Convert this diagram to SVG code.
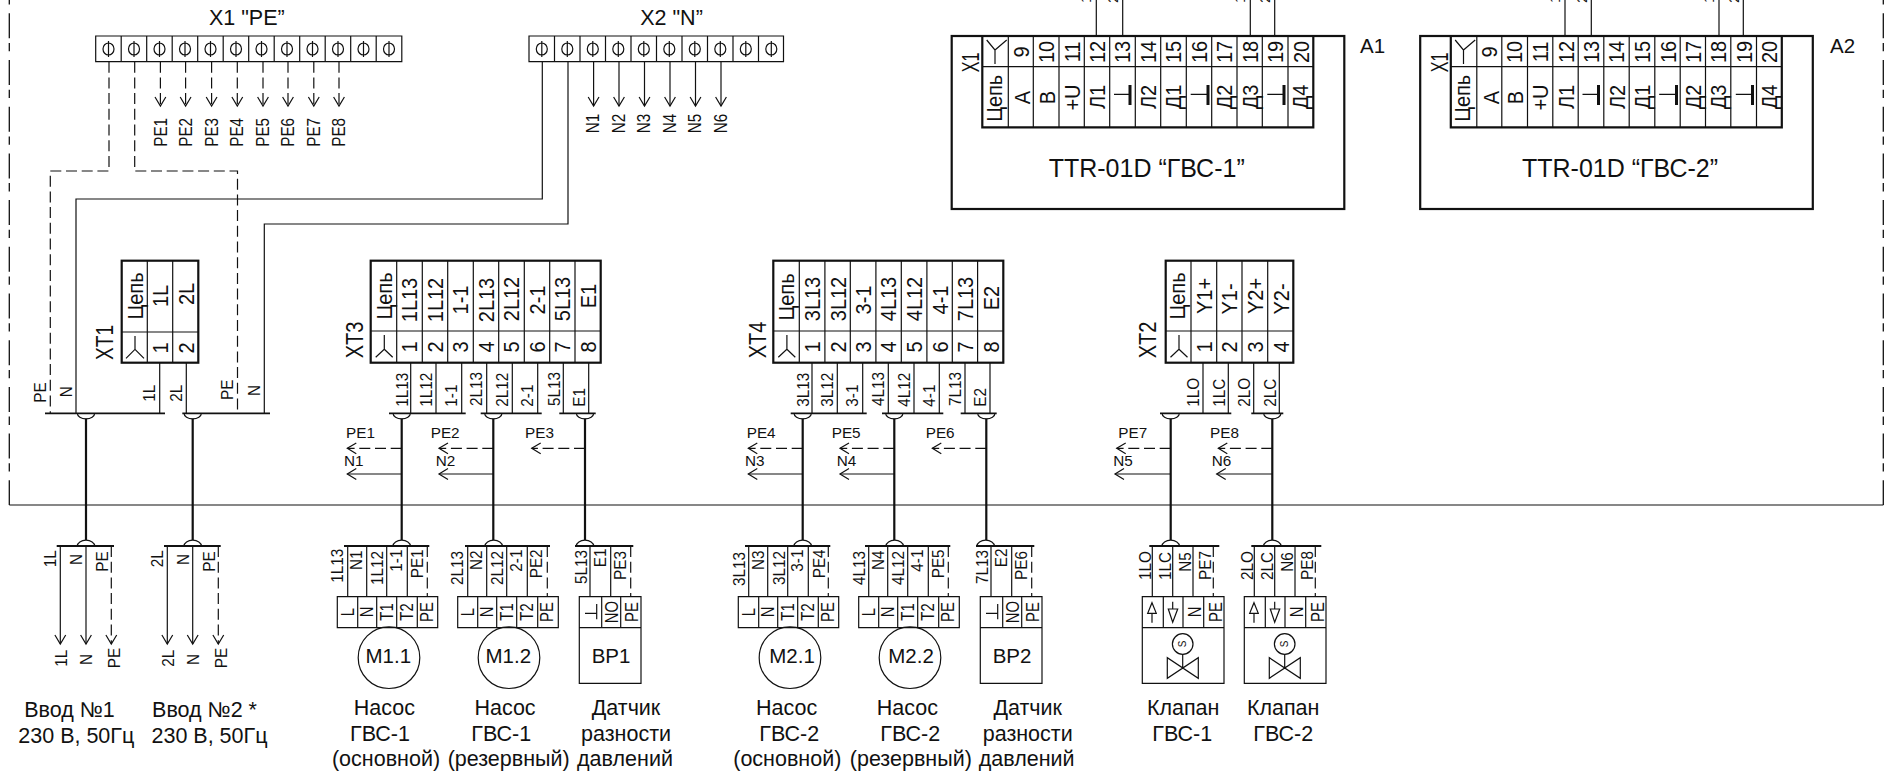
<svg xmlns="http://www.w3.org/2000/svg" width="1889" height="774" viewBox="0 0 1889 774">
<style>
text{font-family:"Liberation Sans",Arial,sans-serif;fill:#111}
.w,.wd,.bus,.hv,.box,.thin,.gnd{fill:none;stroke:#111}
.w,.wd{stroke-width:1.2}
.wd{stroke-dasharray:11 4.7}
.bus{stroke-width:1.8}
.hv{stroke-width:2.2}
.box{stroke-width:2.2}
.thin{stroke-width:1.2}
.gnd{stroke-width:3}
.fr{fill:none;stroke:#111;stroke-width:1.3;stroke-dasharray:25 4.7 8.3 8.7}
.m{text-anchor:middle}
.sh{font-size:15.3px}.s15{font-size:17.5px}.s16{font-size:17px}.s20{font-size:21.5px}.sh2{font-size:20.5px}.s21{font-size:21.5px}.s25{font-size:25px}
</style>
<defs>
<marker id="ar" markerUnits="userSpaceOnUse" markerWidth="14" markerHeight="16" refX="10" refY="6" orient="auto" overflow="visible"><path d="M1,0.6L10,6L1,11.4" fill="none" stroke="#111" stroke-width="1.2"/></marker>
</defs>
<rect width="1889" height="774" fill="#fff"/>

<g id="frame">
<path class="fr" d="M9.3,-33.4V505"/><path class="fr" d="M1883.3,-33.4V505"/>
<path class="thin" d="M9.3,505H1883.3"/>
</g>

<g id="connectors">
<path class="wd" d="M109,61.7V171H50.3V413.3"/>
<path class="wd" d="M134.7,61.7V171H237.5V413.3"/>
<path class="w" d="M542.3,61.7V199H76V413.3"/>
<path class="w" d="M568,61.7V224H264.3V413.3"/>
<path class="wd" marker-end="url(#ar)" d="M160.4,61.7V106"/><path class="wd" marker-end="url(#ar)" d="M185.6,61.7V106"/><path class="wd" marker-end="url(#ar)" d="M211.6,61.7V106"/><path class="wd" marker-end="url(#ar)" d="M237.3,61.7V106"/><path class="wd" marker-end="url(#ar)" d="M263,61.7V106"/><path class="wd" marker-end="url(#ar)" d="M288,61.7V106"/><path class="wd" marker-end="url(#ar)" d="M313.8,61.7V106"/><path class="wd" marker-end="url(#ar)" d="M339,61.7V106"/>
<path class="w" marker-end="url(#ar)" d="M593.6,61.7V106"/><path class="w" marker-end="url(#ar)" d="M619,61.7V106"/><path class="w" marker-end="url(#ar)" d="M644.5,61.7V106"/><path class="w" marker-end="url(#ar)" d="M670,61.7V106"/><path class="w" marker-end="url(#ar)" d="M695.5,61.7V106"/><path class="w" marker-end="url(#ar)" d="M721,61.7V106"/>
<path class="w" d="M1096.3,0V36M1122.7,0V36M1250.3,0V36M1274.7,0V36M1565,0V36M1591.3,0V36M1719,0V36M1743.3,0V36"/>
<path class="w" d="M159.7,362V413M186.3,362V413"/>
<path class="w" d="M410.7,362V413M436,362V413M461.7,362V413M486.7,362V413M512.3,362V413M537.7,362V413M563.3,362V413M588.7,362V413"/>
<path class="w" d="M812,362V413M837.3,362V413M862.7,362V413M888.3,362V413M914,362V413M939.3,362V413M965,362V413M990,362V413"/>
<path class="w" d="M1203,362V413M1228.3,362V413M1253.7,362V413M1279.3,362V413"/>
<path class="bus" d="M45,413.3H165M182.3,413.3H270M389,413.3H465.7M480.7,413.3H541.7M559.3,413.3H595.7M790.7,413.3H866.7M882,413.3H943.3M960.7,413.3H996.7M1160,413.3H1231.3M1251.3,413.3H1283.3"/>
<path class="thin" d="M77.3,413.3A8.7,5.5 0 0 0 94.7,413.3M184,413.3A8.7,5.5 0 0 0 201.4,413.3M393,413.3A8.7,5.5 0 0 0 410.4,413.3M484.6,413.3A8.7,5.5 0 0 0 502,413.3M576.3,413.3A8.7,5.5 0 0 0 593.7,413.3M794,413.3A8.7,5.5 0 0 0 811.4,413.3M885.6,413.3A8.7,5.5 0 0 0 903,413.3M977.6,413.3A8.7,5.5 0 0 0 995,413.3M1162,413.3A8.7,5.5 0 0 0 1179.4,413.3M1263.6,413.3A8.7,5.5 0 0 0 1281,413.3"/>
<path class="hv" d="M86,418.8V540M192.7,418.8V540M401.7,418.8V540M493.3,418.8V540M585,418.8V540M802.7,418.8V540M894.3,418.8V540M986.3,418.8V540M1170.7,418.8V540M1272.3,418.8V540"/>
<path class="wd" marker-end="url(#ar)" d="M401.7,448.3H347.3"/><path class="w" marker-end="url(#ar)" d="M401.7,474H347.3"/>
<path class="wd" marker-end="url(#ar)" d="M493.3,448.3H439"/><path class="w" marker-end="url(#ar)" d="M493.3,474H439"/>
<path class="wd" marker-end="url(#ar)" d="M585,448.3H531.7"/>
<path class="wd" marker-end="url(#ar)" d="M802.7,448.3H748.3"/><path class="w" marker-end="url(#ar)" d="M802.7,474H748.3"/>
<path class="wd" marker-end="url(#ar)" d="M894.3,448.3H840"/><path class="w" marker-end="url(#ar)" d="M894.3,474H840"/>
<path class="wd" marker-end="url(#ar)" d="M986.3,448.3H932.3"/>
<path class="wd" marker-end="url(#ar)" d="M1170.7,448.3H1116.7"/><path class="w" marker-end="url(#ar)" d="M1170.7,474H1115"/>
<path class="wd" marker-end="url(#ar)" d="M1272.3,448.3H1218.3"/><path class="w" marker-end="url(#ar)" d="M1272.3,474H1216.7"/>
<path class="bus" d="M56.7,546H114M164,546H220.7M344,546H429.3M465,546H550M575,546H633.3M745,546H830.3M865,546H950.3M976,546H1034.3M1149.3,546H1219.3M1251.3,546H1321.3"/>
<path class="thin" d="M77.3,546A8.7,5.8 0 0 1 94.7,546M184,546A8.7,5.8 0 0 1 201.4,546M393,546A8.7,5.8 0 0 1 410.4,546M485,546A8.7,5.8 0 0 1 502.4,546M576.3,546A8.7,5.8 0 0 1 593.7,546M794,546A8.7,5.8 0 0 1 811.4,546M886,546A8.7,5.8 0 0 1 903.4,546M977,546A8.7,5.8 0 0 1 994.4,546M1162,546A8.7,5.8 0 0 1 1179.4,546M1263.6,546A8.7,5.8 0 0 1 1281,546"/>
<path class="w" marker-end="url(#ar)" d="M60.3,546V644"/><path class="w" marker-end="url(#ar)" d="M86,546V644"/><path class="wd" marker-end="url(#ar)" d="M111.3,546V644"/>
<path class="w" marker-end="url(#ar)" d="M167.3,546V644"/><path class="w" marker-end="url(#ar)" d="M192.7,546V644"/><path class="wd" marker-end="url(#ar)" d="M218.3,546V644"/>
<path class="w" d="M347.7,546V596.7M366.7,546V596.7M386.7,546V596.7M407.3,546V596.7M467.7,546V596.7M486.7,546V596.7M506.7,546V596.7M527.3,546V596.7M590,546V596.7M610.7,546V596.7M748.7,546V596.7M767.7,546V596.7M787.7,546V596.7M808.3,546V596.7M868.7,546V596.7M887.7,546V596.7M907.7,546V596.7M928.3,546V596.7M991,546V596.7M1011.7,546V596.7M1152.3,546V596.7M1172.7,546V596.7M1193,546V596.7M1254.3,546V596.7M1274.7,546V596.7M1295,546V596.7"/>
<path class="wd" d="M427.3,546V596.7M547.3,546V596.7M630.7,546V596.7M828.3,546V596.7M948.3,546V596.7M1031.7,546V596.7M1213.3,546V596.7M1315.3,546V596.7"/>
</g>

<g id="wire-labels">
<g class="s15">
<text transform="translate(166.5,146.7)rotate(-90)scale(.87 1)">PE1</text><text transform="translate(192,146.7)rotate(-90)scale(.87 1)">PE2</text><text transform="translate(217.5,146.7)rotate(-90)scale(.87 1)">PE3</text><text transform="translate(243,146.7)rotate(-90)scale(.87 1)">PE4</text><text transform="translate(268.5,146.7)rotate(-90)scale(.87 1)">PE5</text><text transform="translate(294,146.7)rotate(-90)scale(.87 1)">PE6</text><text transform="translate(319.5,146.7)rotate(-90)scale(.87 1)">PE7</text><text transform="translate(345,146.7)rotate(-90)scale(.87 1)">PE8</text>
<text transform="translate(599,133.3)rotate(-90)scale(.87 1)">N1</text><text transform="translate(624.5,133.3)rotate(-90)scale(.87 1)">N2</text><text transform="translate(650,133.3)rotate(-90)scale(.87 1)">N3</text><text transform="translate(675.5,133.3)rotate(-90)scale(.87 1)">N4</text><text transform="translate(701,133.3)rotate(-90)scale(.87 1)">N5</text><text transform="translate(726.5,133.3)rotate(-90)scale(.87 1)">N6</text>
</g>
<g class="sh">
<text transform="translate(1091,3)rotate(-90)">1</text><text transform="translate(1118,3)rotate(-90)">2</text><text transform="translate(1245,3)rotate(-90)">1</text><text transform="translate(1270,3)rotate(-90)">2</text><text transform="translate(1559.5,3)rotate(-90)">1</text><text transform="translate(1586.5,3)rotate(-90)">2</text><text transform="translate(1713.5,3)rotate(-90)">1</text><text transform="translate(1738.5,3)rotate(-90)">2</text>
<text x="346" y="438">PE1</text><text x="344" y="466">N1</text><text x="430.7" y="438">PE2</text><text x="435.7" y="466">N2</text><text x="525" y="438">PE3</text>
<text x="746.7" y="438">PE4</text><text x="745" y="466">N3</text><text x="831.7" y="438">PE5</text><text x="836.7" y="466">N4</text><text x="925.7" y="438">PE6</text>
<text x="1118.3" y="438">PE7</text><text x="1113.3" y="466">N5</text><text x="1210" y="438">PE8</text><text x="1211.7" y="466">N6</text>
</g>
<g class="s16">
<text transform="translate(46,402.7)rotate(-90)scale(.9 1)">PE</text><text transform="translate(71.7,397.3)rotate(-90)scale(.9 1)">N</text><text transform="translate(155.3,401.7)rotate(-90)scale(.9 1)">1L</text><text transform="translate(181.7,401.7)rotate(-90)scale(.9 1)">2L</text><text transform="translate(232.7,400)rotate(-90)scale(.9 1)">PE</text><text transform="translate(260,396)rotate(-90)scale(.9 1)">N</text>
<text transform="translate(408,406.7)rotate(-90)scale(.9 1)">1L13</text><text transform="translate(431.7,406.7)rotate(-90)scale(.9 1)">1L12</text><text transform="translate(456.7,406.7)rotate(-90)scale(.9 1)">1-1</text><text transform="translate(482.3,406)rotate(-90)scale(.9 1)">2L13</text><text transform="translate(508,406.7)rotate(-90)scale(.9 1)">2L12</text><text transform="translate(533,406.7)rotate(-90)scale(.9 1)">2-1</text><text transform="translate(560,406)rotate(-90)scale(.9 1)">5L13</text><text transform="translate(585,406.7)rotate(-90)scale(.9 1)">E1</text>
<text transform="translate(809.3,406.7)rotate(-90)scale(.9 1)">3L13</text><text transform="translate(832.7,406.7)rotate(-90)scale(.9 1)">3L12</text><text transform="translate(858,406.7)rotate(-90)scale(.9 1)">3-1</text><text transform="translate(883.5,406)rotate(-90)scale(.9 1)">4L13</text><text transform="translate(909.5,406.7)rotate(-90)scale(.9 1)">4L12</text><text transform="translate(934.5,406.7)rotate(-90)scale(.9 1)">4-1</text><text transform="translate(961,406)rotate(-90)scale(.9 1)">7L13</text><text transform="translate(986,406.7)rotate(-90)scale(.9 1)">E2</text>
<text transform="translate(1199.3,406.7)rotate(-90)scale(.9 1)">1LO</text><text transform="translate(1225,406.7)rotate(-90)scale(.9 1)">1LC</text><text transform="translate(1250,406.7)rotate(-90)scale(.9 1)">2LO</text><text transform="translate(1275.7,406.7)rotate(-90)scale(.9 1)">2LC</text>
<text transform="translate(56,567.3)rotate(-90)scale(.9 1)">1L</text><text transform="translate(81.7,565)rotate(-90)scale(.9 1)">N</text><text transform="translate(108.3,571.7)rotate(-90)scale(.9 1)">PE</text><text transform="translate(163.3,567.3)rotate(-90)scale(.9 1)">2L</text><text transform="translate(188.7,565)rotate(-90)scale(.9 1)">N</text><text transform="translate(215,571.7)rotate(-90)scale(.9 1)">PE</text>
<text transform="translate(67.3,666.7)rotate(-90)scale(.9 1)">1L</text><text transform="translate(92.3,665)rotate(-90)scale(.9 1)">N</text><text transform="translate(120,668.3)rotate(-90)scale(.9 1)">PE</text><text transform="translate(174.3,666.7)rotate(-90)scale(.9 1)">2L</text><text transform="translate(199,665)rotate(-90)scale(.9 1)">N</text><text transform="translate(226.7,668.3)rotate(-90)scale(.9 1)">PE</text>
<text transform="translate(343.3,582.7)rotate(-90)scale(.9 1)">1L13</text><text transform="translate(361.7,570)rotate(-90)scale(.9 1)">N1</text><text transform="translate(382.7,585)rotate(-90)scale(.9 1)">1L12</text><text transform="translate(401.7,571.7)rotate(-90)scale(.9 1)">1-1</text><text transform="translate(422.7,578.3)rotate(-90)scale(.9 1)">PE1</text>
<text transform="translate(463.3,585)rotate(-90)scale(.9 1)">2L13</text><text transform="translate(482.3,570)rotate(-90)scale(.9 1)">N2</text><text transform="translate(502.7,585)rotate(-90)scale(.9 1)">2L12</text><text transform="translate(521.7,571.7)rotate(-90)scale(.9 1)">2-1</text><text transform="translate(542.3,578.3)rotate(-90)scale(.9 1)">PE2</text>
<text transform="translate(586.7,584)rotate(-90)scale(.9 1)">5L13</text><text transform="translate(606,567.3)rotate(-90)scale(.9 1)">E1</text><text transform="translate(626,580)rotate(-90)scale(.9 1)">PE3</text>
<text transform="translate(745,586)rotate(-90)scale(.9 1)">3L13</text><text transform="translate(764,570)rotate(-90)scale(.9 1)">N3</text><text transform="translate(785,585)rotate(-90)scale(.9 1)">3L12</text><text transform="translate(803.3,571.7)rotate(-90)scale(.9 1)">3-1</text><text transform="translate(825,578.3)rotate(-90)scale(.9 1)">PE4</text>
<text transform="translate(865,585)rotate(-90)scale(.9 1)">4L13</text><text transform="translate(884,570)rotate(-90)scale(.9 1)">N4</text><text transform="translate(904,585)rotate(-90)scale(.9 1)">4L12</text><text transform="translate(923,571.7)rotate(-90)scale(.9 1)">4-1</text><text transform="translate(944,578.3)rotate(-90)scale(.9 1)">PE5</text>
<text transform="translate(987.5,584)rotate(-90)scale(.9 1)">7L13</text><text transform="translate(1007,567.3)rotate(-90)scale(.9 1)">E2</text><text transform="translate(1027,580)rotate(-90)scale(.9 1)">PE6</text>
<text transform="translate(1150.7,580)rotate(-90)scale(.9 1)">1LO</text><text transform="translate(1170.7,580)rotate(-90)scale(.9 1)">1LC</text><text transform="translate(1191,571.7)rotate(-90)scale(.9 1)">N5</text><text transform="translate(1210.7,580)rotate(-90)scale(.9 1)">PE7</text>
<text transform="translate(1252.7,580)rotate(-90)scale(.9 1)">2LO</text><text transform="translate(1272.7,580)rotate(-90)scale(.9 1)">2LC</text><text transform="translate(1293,571.7)rotate(-90)scale(.9 1)">N6</text><text transform="translate(1312.7,580)rotate(-90)scale(.9 1)">PE8</text>
</g>
</g>

<g id="X1">
<text x="246.8" y="25" class="m s21">X1 "PE”</text>
<path class="thin" d="M95.7,36H401.8V61.7H95.7ZM121.2,36V61.7M146.7,36V61.7M172.2,36V61.7M197.7,36V61.7M223.2,36V61.7M248.7,36V61.7M274.2,36V61.7M299.7,36V61.7M325.2,36V61.7M350.7,36V61.7M376.2,36V61.7"/>
<path class="thin" d="M103,49a5.5,6 0 1 0 11,0a5.5,6 0 1 0 -11,0M108.5,41V57M128.5,49a5.5,6 0 1 0 11,0a5.5,6 0 1 0 -11,0M134,41V57M154,49a5.5,6 0 1 0 11,0a5.5,6 0 1 0 -11,0M159.5,41V57M179.5,49a5.5,6 0 1 0 11,0a5.5,6 0 1 0 -11,0M185,41V57M205,49a5.5,6 0 1 0 11,0a5.5,6 0 1 0 -11,0M210.5,41V57M230.5,49a5.5,6 0 1 0 11,0a5.5,6 0 1 0 -11,0M236,41V57M256,49a5.5,6 0 1 0 11,0a5.5,6 0 1 0 -11,0M261.5,41V57M281.5,49a5.5,6 0 1 0 11,0a5.5,6 0 1 0 -11,0M287,41V57M307,49a5.5,6 0 1 0 11,0a5.5,6 0 1 0 -11,0M312.5,41V57M332.5,49a5.5,6 0 1 0 11,0a5.5,6 0 1 0 -11,0M338,41V57M358,49a5.5,6 0 1 0 11,0a5.5,6 0 1 0 -11,0M363.5,41V57M383.5,49a5.5,6 0 1 0 11,0a5.5,6 0 1 0 -11,0M389,41V57"/>
</g>
<g id="X2">
<text x="671.5" y="25" class="m s21">X2 "N”</text>
<path class="thin" d="M529,36H783.5V61.7H529ZM554.5,36V61.7M580,36V61.7M605.5,36V61.7M631,36V61.7M656.5,36V61.7M682,36V61.7M707.5,36V61.7M733,36V61.7M758.5,36V61.7"/>
<path class="thin" d="M536.3,49a5.5,6 0 1 0 11,0a5.5,6 0 1 0 -11,0M541.8,41V57M561.8,49a5.5,6 0 1 0 11,0a5.5,6 0 1 0 -11,0M567.3,41V57M587.3,49a5.5,6 0 1 0 11,0a5.5,6 0 1 0 -11,0M592.8,41V57M612.8,49a5.5,6 0 1 0 11,0a5.5,6 0 1 0 -11,0M618.3,41V57M638.3,49a5.5,6 0 1 0 11,0a5.5,6 0 1 0 -11,0M643.8,41V57M663.8,49a5.5,6 0 1 0 11,0a5.5,6 0 1 0 -11,0M669.3,41V57M689.3,49a5.5,6 0 1 0 11,0a5.5,6 0 1 0 -11,0M694.8,41V57M714.8,49a5.5,6 0 1 0 11,0a5.5,6 0 1 0 -11,0M720.3,41V57M740.3,49a5.5,6 0 1 0 11,0a5.5,6 0 1 0 -11,0M745.8,41V57M765.8,49a5.5,6 0 1 0 11,0a5.5,6 0 1 0 -11,0M771.3,41V57"/>
</g>

<g id="A1">
<rect class="box" x="951.7" y="36" width="392.6" height="173"/>
<path class="box" d="M982.3,36V127.3H1313.3V36"/>
<path class="thin" d="M982.3,66.7H1313.3M1008.3,36V127.3M1033.3,36V127.3M1059,36V127.3M1084.3,36V127.3M1109.7,36V127.3M1135.3,36V127.3M1160.7,36V127.3M1186.3,36V127.3M1211.7,36V127.3M1237,36V127.3M1262.3,36V127.3M1288,36V127.3"/>
<path class="thin" d="M995,64V50L986.7,40M995,50L1006.7,40M1114,94.3H1130M1190.7,94.3H1208M1267.3,94.3H1284"/>
<path class="gnd" d="M1130,85V105M1208,85V105M1284,85V105"/>
<g class="m s20">
<text transform="translate(1028.8,52)rotate(-90)scale(.93 1)">9</text><text transform="translate(1053.8,52)rotate(-90)scale(.93 1)">10</text><text transform="translate(1079.5,52)rotate(-90)scale(.93 1)">11</text><text transform="translate(1105,52)rotate(-90)scale(.93 1)">12</text><text transform="translate(1130,52)rotate(-90)scale(.93 1)">13</text><text transform="translate(1155.8,52)rotate(-90)scale(.93 1)">14</text><text transform="translate(1181,52)rotate(-90)scale(.93 1)">15</text><text transform="translate(1207,52)rotate(-90)scale(.93 1)">16</text><text transform="translate(1232,52)rotate(-90)scale(.93 1)">17</text><text transform="translate(1257.5,52)rotate(-90)scale(.93 1)">18</text><text transform="translate(1283,52)rotate(-90)scale(.93 1)">19</text><text transform="translate(1308.5,52)rotate(-90)scale(.93 1)">20</text>
<text transform="translate(1001.7,98.3)rotate(-90)scale(.93 1)">Цепь</text><text transform="translate(1030,97.5)rotate(-90)scale(.93 1)">А</text><text transform="translate(1054.5,97.5)rotate(-90)scale(.93 1)">В</text><text transform="translate(1079.5,97.5)rotate(-90)scale(.93 1)">+U</text><text transform="translate(1105,97)rotate(-90)scale(.93 1)">Л1</text><text transform="translate(1156,97)rotate(-90)scale(.93 1)">Л2</text><text transform="translate(1181,97)rotate(-90)scale(.93 1)">Д1</text><text transform="translate(1232,97)rotate(-90)scale(.93 1)">Д2</text><text transform="translate(1257.5,97)rotate(-90)scale(.93 1)">Д3</text><text transform="translate(1308,97)rotate(-90)scale(.93 1)">Д4</text>
<text transform="translate(979,62.5)rotate(-90)" font-size="23" textLength="19.7" lengthAdjust="spacingAndGlyphs">X1</text>
</g>
<text x="1146.7" y="176.7" class="m s25">TTR-01D “ГВС-1”</text>
<text x="1360" y="53.3" class="sh2">A1</text>
</g>

<g id="A2" transform="translate(468.5 0)">
<rect class="box" x="951.7" y="36" width="392.6" height="173"/>
<path class="box" d="M982.3,36V127.3H1313.3V36"/>
<path class="thin" d="M982.3,66.7H1313.3M1008.3,36V127.3M1033.3,36V127.3M1059,36V127.3M1084.3,36V127.3M1109.7,36V127.3M1135.3,36V127.3M1160.7,36V127.3M1186.3,36V127.3M1211.7,36V127.3M1237,36V127.3M1262.3,36V127.3M1288,36V127.3"/>
<path class="thin" d="M995,64V50L986.7,40M995,50L1006.7,40M1114,94.3H1130M1190.7,94.3H1208M1267.3,94.3H1284"/>
<path class="gnd" d="M1130,85V105M1208,85V105M1284,85V105"/>
<g class="m s20">
<text transform="translate(1028.8,52)rotate(-90)scale(.93 1)">9</text><text transform="translate(1053.8,52)rotate(-90)scale(.93 1)">10</text><text transform="translate(1079.5,52)rotate(-90)scale(.93 1)">11</text><text transform="translate(1105,52)rotate(-90)scale(.93 1)">12</text><text transform="translate(1130,52)rotate(-90)scale(.93 1)">13</text><text transform="translate(1155.8,52)rotate(-90)scale(.93 1)">14</text><text transform="translate(1181,52)rotate(-90)scale(.93 1)">15</text><text transform="translate(1207,52)rotate(-90)scale(.93 1)">16</text><text transform="translate(1232,52)rotate(-90)scale(.93 1)">17</text><text transform="translate(1257.5,52)rotate(-90)scale(.93 1)">18</text><text transform="translate(1283,52)rotate(-90)scale(.93 1)">19</text><text transform="translate(1308.5,52)rotate(-90)scale(.93 1)">20</text>
<text transform="translate(1001.7,98.3)rotate(-90)scale(.93 1)">Цепь</text><text transform="translate(1030,97.5)rotate(-90)scale(.93 1)">А</text><text transform="translate(1054.5,97.5)rotate(-90)scale(.93 1)">В</text><text transform="translate(1079.5,97.5)rotate(-90)scale(.93 1)">+U</text><text transform="translate(1105,97)rotate(-90)scale(.93 1)">Л1</text><text transform="translate(1156,97)rotate(-90)scale(.93 1)">Л2</text><text transform="translate(1181,97)rotate(-90)scale(.93 1)">Д1</text><text transform="translate(1232,97)rotate(-90)scale(.93 1)">Д2</text><text transform="translate(1257.5,97)rotate(-90)scale(.93 1)">Д3</text><text transform="translate(1308,97)rotate(-90)scale(.93 1)">Д4</text>
<text transform="translate(979,62.5)rotate(-90)" font-size="23" textLength="19.7" lengthAdjust="spacingAndGlyphs">X1</text>
</g>
<text x="1151.5" y="176.7" class="m s25">TTR-01D “ГВС-2”</text>
<text x="1361.5" y="53.3" class="sh2">A2</text>
</g>

<g id="XT1">
<rect class="box" x="121.7" y="260.7" width="76.6" height="102"/>
<path class="thin" d="M121.7,332H198.3M147.3,260.7V362.7M172.7,260.7V362.7M135,336V349.3L126,358.3M135,349.3L144,358.3"/>
<g class="m s20">
<text transform="translate(143.3,296)rotate(-90)scale(.93 1)">Цепь</text><text transform="translate(168.3,296)rotate(-90)scale(.93 1)">1L</text><text transform="translate(194,294)rotate(-90)scale(.93 1)">2L</text><text transform="translate(168.3,348)rotate(-90)scale(.93 1)">1</text><text transform="translate(194,348)rotate(-90)scale(.93 1)">2</text>
<text transform="translate(112.7,342.5)rotate(-90)" font-size="24" textLength="35" lengthAdjust="spacingAndGlyphs">XT1</text>
</g>
</g>

<g id="XT3">
<rect class="box" x="370.7" y="260.7" width="230" height="102"/>
<path class="thin" d="M370.7,331H600.7M396.7,260.7V362.7M422.3,260.7V362.7M447.7,260.7V362.7M473.3,260.7V362.7M498.7,260.7V362.7M524.3,260.7V362.7M549.7,260.7V362.7M575,260.7V362.7M384.3,335V349.3L375.7,357.3M384.3,349.3L392.7,357.3"/>
<g class="m s20">
<text transform="translate(391.7,296)rotate(-90)scale(.93 1)">Цепь</text><text transform="translate(417.3,300)rotate(-90)scale(.93 1)">1L13</text><text transform="translate(443,300)rotate(-90)scale(.93 1)">1L12</text><text transform="translate(468.3,300)rotate(-90)scale(.93 1)">1-1</text><text transform="translate(493.7,300)rotate(-90)scale(.93 1)">2L13</text><text transform="translate(519,299)rotate(-90)scale(.93 1)">2L12</text><text transform="translate(545,300)rotate(-90)scale(.93 1)">2-1</text><text transform="translate(570,299)rotate(-90)scale(.93 1)">5L13</text><text transform="translate(596,296)rotate(-90)scale(.93 1)">E1</text>
<text transform="translate(417.3,347)rotate(-90)scale(.93 1)">1</text><text transform="translate(443,347)rotate(-90)scale(.93 1)">2</text><text transform="translate(468.3,347)rotate(-90)scale(.93 1)">3</text><text transform="translate(493.7,347)rotate(-90)scale(.93 1)">4</text><text transform="translate(519,347)rotate(-90)scale(.93 1)">5</text><text transform="translate(545,347)rotate(-90)scale(.93 1)">6</text><text transform="translate(570,347)rotate(-90)scale(.93 1)">7</text><text transform="translate(596,347)rotate(-90)scale(.93 1)">8</text>
<text transform="translate(363.3,340)rotate(-90)" font-size="24" textLength="36.7" lengthAdjust="spacingAndGlyphs">XT3</text>
</g>
</g>

<g id="XT4" transform="translate(402.6 0)">
<rect class="box" x="370.7" y="260.7" width="230" height="102"/>
<path class="thin" d="M370.7,331H600.7M396.7,260.7V362.7M422.3,260.7V362.7M447.7,260.7V362.7M473.3,260.7V362.7M498.7,260.7V362.7M524.3,260.7V362.7M549.7,260.7V362.7M575,260.7V362.7M384.3,335V349.3L375.7,357.3M384.3,349.3L392.7,357.3"/>
<g class="m s20">
<text transform="translate(391.7,297)rotate(-90)scale(.93 1)">Цепь</text><text transform="translate(417.3,299)rotate(-90)scale(.93 1)">3L13</text><text transform="translate(443,299)rotate(-90)scale(.93 1)">3L12</text><text transform="translate(468.3,300)rotate(-90)scale(.93 1)">3-1</text><text transform="translate(493.7,299)rotate(-90)scale(.93 1)">4L13</text><text transform="translate(519,299)rotate(-90)scale(.93 1)">4L12</text><text transform="translate(545,300)rotate(-90)scale(.93 1)">4-1</text><text transform="translate(570,299)rotate(-90)scale(.93 1)">7L13</text><text transform="translate(596,298)rotate(-90)scale(.93 1)">E2</text>
<text transform="translate(417.3,347)rotate(-90)scale(.93 1)">1</text><text transform="translate(443,347)rotate(-90)scale(.93 1)">2</text><text transform="translate(468.3,347)rotate(-90)scale(.93 1)">3</text><text transform="translate(493.7,347)rotate(-90)scale(.93 1)">4</text><text transform="translate(519,347)rotate(-90)scale(.93 1)">5</text><text transform="translate(545,347)rotate(-90)scale(.93 1)">6</text><text transform="translate(570,347)rotate(-90)scale(.93 1)">7</text><text transform="translate(596,347)rotate(-90)scale(.93 1)">8</text>
<text transform="translate(363.3,340)rotate(-90)" font-size="24" textLength="36.7" lengthAdjust="spacingAndGlyphs">XT4</text>
</g>
</g>

<g id="XT2">
<rect class="box" x="1165.7" y="260.7" width="127.6" height="102"/>
<path class="thin" d="M1165.7,331H1293.3M1191,260.7V362.7M1216.7,260.7V362.7M1242,260.7V362.7M1267.7,260.7V362.7M1179,335V349.3L1170.5,357.3M1179,349.3L1187.5,357.3"/>
<g class="m s20">
<text transform="translate(1185,296)rotate(-90)scale(.93 1)">Цепь</text><text transform="translate(1211.7,296)rotate(-90)scale(.93 1)">Y1+</text><text transform="translate(1236.7,299)rotate(-90)scale(.93 1)">Y1-</text><text transform="translate(1262.7,296)rotate(-90)scale(.93 1)">Y2+</text><text transform="translate(1289,299)rotate(-90)scale(.93 1)">Y2-</text>
<text transform="translate(1211.7,347)rotate(-90)scale(.93 1)">1</text><text transform="translate(1236.7,347)rotate(-90)scale(.93 1)">2</text><text transform="translate(1262.7,347)rotate(-90)scale(.93 1)">3</text><text transform="translate(1289,347)rotate(-90)scale(.93 1)">4</text>
<text transform="translate(1155.5,340)rotate(-90)" font-size="24" textLength="36.7" lengthAdjust="spacingAndGlyphs">XT2</text>
</g>
</g>

<g id="input1">
<text x="69.5" y="716.7" class="m s21">Ввод №1</text>
<text x="76.3" y="743.3" class="m s21">230 В, 50Гц</text>
</g>
<g id="input2">
<text x="204.5" y="716.7" class="m s21">Ввод №2 *</text>
<text x="209.5" y="743.3" class="m s21">230 В, 50Гц</text>
</g>

<g id="M1.1">
<path class="thin" d="M337.3,596.7H437.7V627.7H337.3ZM357.7,596.7V627.7M376.7,596.7V627.7M396.7,596.7V627.7M417.3,596.7V627.7"/>
<circle class="thin" cx="389" cy="657.7" r="30.8"/>
<g class="m s15"><text transform="translate(354,612)rotate(-90)scale(.85 1)">L</text><text transform="translate(373.3,612)rotate(-90)scale(.85 1)">N</text><text transform="translate(393,612)rotate(-90)scale(.85 1)">T1</text><text transform="translate(413.3,612)rotate(-90)scale(.85 1)">T2</text><text transform="translate(433.3,612)rotate(-90)scale(.85 1)">PE</text></g>
<text x="388.3" y="663.3" class="m sh2">M1.1</text>
<g class="m s21"><text x="384.3" y="715">Насос</text><text x="380" y="741">ГВС-1</text><text x="386" y="766">(основной)</text></g>
</g>
<g id="M1.2">
<path class="thin" d="M457.7,596.7H558.3V627.7H457.7ZM477.7,596.7V627.7M496.7,596.7V627.7M516.7,596.7V627.7M537.7,596.7V627.7"/>
<circle class="thin" cx="509" cy="657.7" r="30.8"/>
<g class="m s15"><text transform="translate(474,612)rotate(-90)scale(.85 1)">L</text><text transform="translate(493.3,612)rotate(-90)scale(.85 1)">N</text><text transform="translate(513,612)rotate(-90)scale(.85 1)">T1</text><text transform="translate(533.3,612)rotate(-90)scale(.85 1)">T2</text><text transform="translate(553.3,612)rotate(-90)scale(.85 1)">PE</text></g>
<text x="508.3" y="663.3" class="m sh2">M1.2</text>
<g class="m s21"><text x="505" y="715">Насос</text><text x="501.3" y="741">ГВС-1</text><text x="508.7" y="766">(резервный)</text></g>
</g>
<g id="BP1">
<path class="thin" d="M579.3,596.7H641V683.3H579.3ZM579.3,627.7H641M601.7,596.7V627.7M620.7,596.7V627.7M585,613.3H596.7"/>
<path class="thin" stroke-width="2" d="M596.7,604V619.3"/>
<g class="m s15"><text transform="translate(618.3,612)rotate(-90)scale(.85 1)">NO</text><text transform="translate(638.3,612)rotate(-90)scale(.85 1)">PE</text></g>
<text x="611" y="663.3" class="m sh2">BP1</text>
<g class="m s21"><text x="626" y="715">Датчик</text><text x="626" y="741">разности</text><text x="625" y="766">давлений</text></g>
</g>
<g id="M2.1">
<path class="thin" d="M738.3,596.7H838.7V627.7H738.3ZM758.7,596.7V627.7M777.7,596.7V627.7M797.7,596.7V627.7M818.3,596.7V627.7"/>
<circle class="thin" cx="790" cy="657.7" r="30.8"/>
<g class="m s15"><text transform="translate(755,612)rotate(-90)scale(.85 1)">L</text><text transform="translate(774.3,612)rotate(-90)scale(.85 1)">N</text><text transform="translate(794,612)rotate(-90)scale(.85 1)">T1</text><text transform="translate(814.3,612)rotate(-90)scale(.85 1)">T2</text><text transform="translate(834.3,612)rotate(-90)scale(.85 1)">PE</text></g>
<text x="792" y="663.3" class="m sh2">M2.1</text>
<g class="m s21"><text x="786.7" y="715">Насос</text><text x="789.2" y="741">ГВС-2</text><text x="787.3" y="766">(основной)</text></g>
</g>
<g id="M2.2">
<path class="thin" d="M858.7,596.7H959.3V627.7H858.7ZM878.7,596.7V627.7M897.7,596.7V627.7M917.7,596.7V627.7M938.7,596.7V627.7"/>
<circle class="thin" cx="910" cy="657.7" r="30.8"/>
<g class="m s15"><text transform="translate(875,612)rotate(-90)scale(.85 1)">L</text><text transform="translate(894.3,612)rotate(-90)scale(.85 1)">N</text><text transform="translate(914,612)rotate(-90)scale(.85 1)">T1</text><text transform="translate(934.3,612)rotate(-90)scale(.85 1)">T2</text><text transform="translate(954.3,612)rotate(-90)scale(.85 1)">PE</text></g>
<text x="911" y="663.3" class="m sh2">M2.2</text>
<g class="m s21"><text x="907.3" y="715">Насос</text><text x="910.3" y="741">ГВС-2</text><text x="910.8" y="766">(резервный)</text></g>
</g>
<g id="BP2">
<path class="thin" d="M980.3,596.7H1042V683.3H980.3ZM980.3,627.7H1042M1002.7,596.7V627.7M1021.7,596.7V627.7M986,613.3H997.7"/>
<path class="thin" stroke-width="2" d="M997.7,604V619.3"/>
<g class="m s15"><text transform="translate(1019.3,612)rotate(-90)scale(.85 1)">NO</text><text transform="translate(1039.3,612)rotate(-90)scale(.85 1)">PE</text></g>
<text x="1012" y="663.3" class="m sh2">BP2</text>
<g class="m s21"><text x="1027.7" y="715">Датчик</text><text x="1027.7" y="741">разности</text><text x="1026.7" y="766">давлений</text></g>
</g>
<g id="valve1">
<path class="thin" d="M1142.3,596.7H1224V683.3H1142.3ZM1142.3,627.7H1224M1163.3,596.7V627.7M1183,596.7V627.7M1203.7,596.7V627.7"/>
<path class="thin" d="M1152,602.7L1156.3,613.3H1147.7ZM1152,613.3V622.7M1172.7,601.7V609M1168.3,609H1177.7L1172.7,622.3Z"/>
<circle class="thin" cx="1182.7" cy="644" r="10.3"/>
<path class="thin" d="M1182.7,654.3V668.3M1167.3,657.7V678.3L1198.3,657.7V678.3Z"/>
<text transform="translate(1186,644)rotate(-90)" class="m" font-size="10">S</text>
<g class="m s15"><text transform="translate(1200.7,612)rotate(-90)scale(.85 1)">N</text><text transform="translate(1221.7,612)rotate(-90)scale(.85 1)">PE</text></g>
<g class="m s21"><text x="1183.2" y="715">Клапан</text><text x="1182.2" y="740.7">ГВС-1</text></g>
</g>
<g id="valve2">
<path class="thin" d="M1244.3,596.7H1326V683.3H1244.3ZM1244.3,627.7H1326M1265.3,596.7V627.7M1285,596.7V627.7M1305.7,596.7V627.7"/>
<path class="thin" d="M1254,602.7L1258.3,613.3H1249.7ZM1254,613.3V622.7M1274.7,601.7V609M1270.3,609H1279.7L1274.7,622.3Z"/>
<circle class="thin" cx="1284.7" cy="644" r="10.3"/>
<path class="thin" d="M1284.7,654.3V668.3M1269.3,657.7V678.3L1300.3,657.7V678.3Z"/>
<text transform="translate(1288,644)rotate(-90)" class="m" font-size="10">S</text>
<g class="m s15"><text transform="translate(1302.7,612)rotate(-90)scale(.85 1)">N</text><text transform="translate(1323.7,612)rotate(-90)scale(.85 1)">PE</text></g>
<g class="m s21"><text x="1183.2" y="715" dx="100">Клапан</text><text x="1283.3" y="740.7">ГВС-2</text></g>
</g>
</svg>
